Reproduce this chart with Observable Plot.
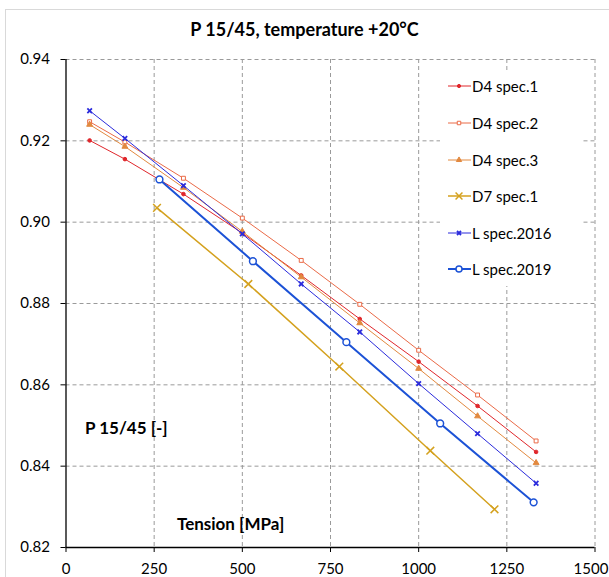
<!DOCTYPE html>
<html><head><meta charset="utf-8">
<script src="https://cdn.jsdelivr.net/npm/d3@7"></script>
<script src="https://cdn.jsdelivr.net/npm/@observablehq/plot@0.6"></script>
<style>
body{margin:0;background:#fff;}
#wrap{position:relative;width:609px;height:577px;overflow:hidden;font-family:Lato, "Open Sans", sans-serif;color:#000;}
#frame{position:absolute;left:5px;top:9px;width:700px;height:700px;border-left:1px solid #d9d9d9;border-top:1px solid #d9d9d9;}
#title{position:absolute;left:0;width:609px;top:19px;text-align:center;font-weight:bold;font-size:18px;line-height:20px;}
#chart{position:absolute;left:0;top:0;}
#legend{position:absolute;left:440px;top:70px;width:141px;height:216px;background:#fff;}
.li{position:absolute;left:6px;height:20px;font-size:15px;line-height:20px;white-space:nowrap;}
.li svg{position:absolute;left:0;top:0;}
.li span{position:absolute;left:26px;top:0;}
#ylab{position:absolute;left:85px;top:418px;font-weight:bold;font-size:17px;line-height:20px;}
#xlab{position:absolute;left:177px;top:514px;font-weight:bold;font-size:17px;line-height:20px;}
</style></head><body>
<div id="wrap">
  <div id="frame"></div>
  <div id="title">P 15/45, temperature +20°C</div>
  <div id="chart"></div>
  <div id="legend"></div>
  <div id="ylab">P 15/45 [-]</div>
  <div id="xlab">Tension [MPa]</div>
</div>
<script>
// ---- data ----
const xTicks = [0, 250, 500, 750, 1000, 1250, 1500];
const yTicks = [0.82, 0.84, 0.86, 0.88, 0.90, 0.92, 0.94];

const tensionD4 = [67, 167, 333, 500, 667, 833, 1000, 1167, 1333];
const tensionL2016 = [67, 167, 333, 500, 667, 833, 1000, 1167, 1333];
const tensionL2019 = [265, 530, 795, 1061, 1326];
const tensionD7 = [258, 517, 775, 1033, 1215];

const d4spec1 = [0.9201, 0.9155, 0.9069, 0.8973, 0.8869, 0.8762, 0.8657, 0.8548, 0.8435];
const d4spec2 = [0.9247, 0.9197, 0.9108, 0.9010, 0.8906, 0.8798, 0.8685, 0.8575, 0.8462];
const d4spec3 = [0.9240, 0.9186, 0.9085, 0.8977, 0.8865, 0.8752, 0.8640, 0.8523, 0.8408];
const d7spec1 = [0.9035, 0.8848, 0.8645, 0.8438, 0.8294];
const lspec2016 = [0.9274, 0.9206, 0.9090, 0.8971, 0.8848, 0.8730, 0.8603, 0.8480, 0.8358];
const lspec2019 = [0.9105, 0.8904, 0.8705, 0.8505, 0.8311];

const seriesNames = ["D4 spec.1", "D4 spec.2", "D4 spec.3", "D7 spec.1", "L spec.2016", "L spec.2019"];
const seriesX = [tensionD4, tensionD4, tensionD4, tensionD7, tensionL2016, tensionL2019];
const seriesY = [d4spec1, d4spec2, d4spec3, d7spec1, lspec2016, lspec2019];

// ---- styles ----
const colors = ["#e0262b", "#ea6a47", "#e2893f", "#d4a11e", "#2b2bdc", "#1c52d6"];
const lineW = [1, 1, 1, 1.5, 1, 2];
const symbols = ["circle", "square", "triangle", "times", "times", "circle"];
const symR = [1.8, 2.2, 2.2, 3.6, 2.2, 3.4];
const symFilled = [true, false, true, false, false, false];
const symSW = [1, 1, 1, 1.5, 1.8, 1.5];

const rows = [];
seriesNames.forEach((name, i) => {
  seriesX[i].forEach((x, j) => rows.push({series: name, idx: i, x, y: seriesY[i][j]}));
});

const lastX = xTicks[xTicks.length - 1];
const marks = [
  Plot.gridX(xTicks.filter(d => d > 0), {stroke: "#9a9a9a", strokeOpacity: 1, strokeDasharray: "4,3"}),
  Plot.gridY(yTicks.filter(d => d > 0.82), {stroke: "#9a9a9a", strokeOpacity: 1, strokeDasharray: "4,3"}),
  Plot.axisX({ticks: xTicks, tickSize: 5, tickPadding: 11, fontSize: 15, label: null,
    tickFormat: d => d === lastX ? "" : d3.format("d")(d)}),
  Plot.axisX({ticks: [lastX], tickSize: 0, tickPadding: 16, fontSize: 15, label: null, dx: -4,
    tickFormat: d3.format("d")}),
  Plot.axisY({ticks: yTicks, tickSize: 5, tickPadding: 11, fontSize: 15, label: null, tickFormat: d3.format(".2f")}),
  Plot.ruleX([0], {stroke: "#000", strokeWidth: 1.3}),
  Plot.ruleY([0.82], {stroke: "#000", strokeWidth: 1.3})
];
seriesNames.forEach((name, i) => {
  const data = rows.filter(r => r.idx === i);
  marks.push(Plot.line(data, {x: "x", y: "y", stroke: colors[i], strokeWidth: lineW[i]}));
  marks.push(Plot.dot(data, {
    x: "x", y: "y", symbol: symbols[i], r: symR[i],
    fill: symFilled[i] ? colors[i] : (symbols[i] === "times" ? "none" : "white"),
    stroke: colors[i], strokeWidth: symSW[i]
  }));
});

const chart = Plot.plot({
  width: 609, height: 577,
  marginLeft: 65.5, marginRight: 14.5, marginTop: 59, marginBottom: 30,
  style: {fontFamily: "Lato, 'Open Sans', sans-serif", fontSize: "15px", color: "#000", background: "transparent"},
  x: {domain: [0, 1500]},
  y: {domain: [0.82, 0.94]},
  marks
});
document.getElementById("chart").appendChild(chart);

// ---- legend ----
const symMap = {circle: d3.symbolCircle, square: d3.symbolSquare, triangle: d3.symbolTriangle, times: d3.symbolTimes};
const legend = document.getElementById("legend");
const rowTops = [6, 43, 80, 116, 153, 189];
seriesNames.forEach((name, i) => {
  const div = document.createElement("div");
  div.className = "li";
  div.style.top = rowTops[i] + "px";
  const path = d3.symbol().type(symMap[symbols[i]]).size(Math.PI * symR[i] * symR[i] * 0.8)();
  const fill = symFilled[i] ? colors[i] : (symbols[i] === "times" ? "none" : "white");
  div.innerHTML = `<svg width="26" height="20"><line x1="2" x2="25" y1="10" y2="10" stroke="${colors[i]}" stroke-width="${lineW[i]}"/><path transform="translate(13,10)" d="${path}" fill="${fill}" stroke="${colors[i]}" stroke-width="${symSW[i]}"/></svg><span>${name}</span>`;
  legend.appendChild(div);
});
</script>
</body></html>
